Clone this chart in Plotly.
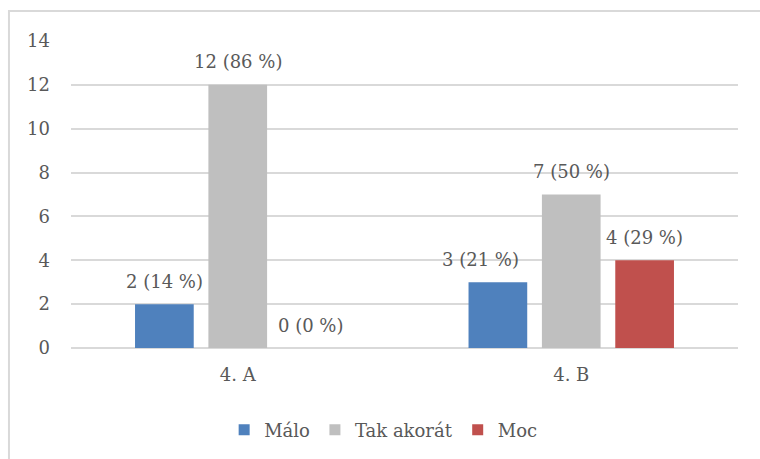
import plotly.graph_objects as go

categories = ["4. A", "4. B"]
series_names = ["Málo", "Tak akorát", "Moc"]
malo = [2, 3]
tak_akorat = [12, 7]
moc = [0, 4]
malo_pct = [14, 21]
tak_pct = [86, 50]
moc_pct = [0, 29]
colors = ["#4F81BD", "#BFBFBF", "#C0504D"]

FONT = "DejaVu Serif"
TXT = "#595959"
W, H = 760, 459
ML, MR, MT, MB = 71, 22, 41, 110
BARGAP, GROUPGAP = 0.34, 0.2

fig = go.Figure()
all_vals = [malo, tak_akorat, moc]
all_pcts = [malo_pct, tak_pct, moc_pct]
for name, vals, col in zip(series_names, all_vals, colors):
    fig.add_trace(go.Bar(
        x=categories, y=vals, name=name, showlegend=False,
        marker=dict(color=col, line=dict(width=0)),
    ))
    # legend entry with a small square symbol
    fig.add_trace(go.Scatter(
        x=[None], y=[None], mode="markers", name=name,
        marker=dict(symbol="square", size=11, color=col),
    ))

# data labels above the bars
plot_w = W - ML - MR
slot = plot_w / len(categories) * (1 - BARGAP) / len(series_names)
nudges = {(0, 1): -17}  # label moved aside to avoid overlapping the neighbouring bar
for i, (vals, pcts) in enumerate(zip(all_vals, all_pcts)):
    for j, (cat, v, p) in enumerate(zip(categories, vals, pcts)):
        fig.add_annotation(
            x=cat, y=v, xref="x", yref="y", text=f"{v} ({p} %)",
            showarrow=False, yanchor="middle", yshift=23,
            xshift=(i - 1) * slot + nudges.get((i, j), 0),
            font=dict(family=FONT, size=18, color=TXT),
        )

fig.update_layout(
    width=W, height=H,
    margin=dict(l=ML, r=MR, t=MT, b=MB),
    paper_bgcolor="white", plot_bgcolor="white",
    barmode="group", bargap=BARGAP, bargroupgap=GROUPGAP,
    font=dict(family=FONT, size=18, color=TXT),
    xaxis=dict(showgrid=False, showline=False, ticks="", ticklabelstandoff=14,
               tickfont=dict(family=FONT, size=18, color=TXT)),
    yaxis=dict(range=[0, 14], dtick=2, showgrid=True, gridcolor="#D9D9D9", gridwidth=1.5,
               zeroline=True, zerolinecolor="#D9D9D9", zerolinewidth=1.5,
               ticks="", ticklabelstandoff=20, tickfont=dict(family=FONT, size=18, color=TXT)),
    legend=dict(orientation="h", x=0.468, xanchor="center", y=-0.263, yanchor="middle",
                font=dict(family=FONT, size=18, color=TXT), traceorder="normal"),
    showlegend=True,
)
fig.add_shape(type="rect", xref="paper", yref="paper",
              x0=-0.093, x1=1.2, y0=-0.6, y1=1.0974,
              line=dict(color="#D9D9D9", width=2), fillcolor="rgba(0,0,0,0)", layer="below")

fig.write_html("out.html")
